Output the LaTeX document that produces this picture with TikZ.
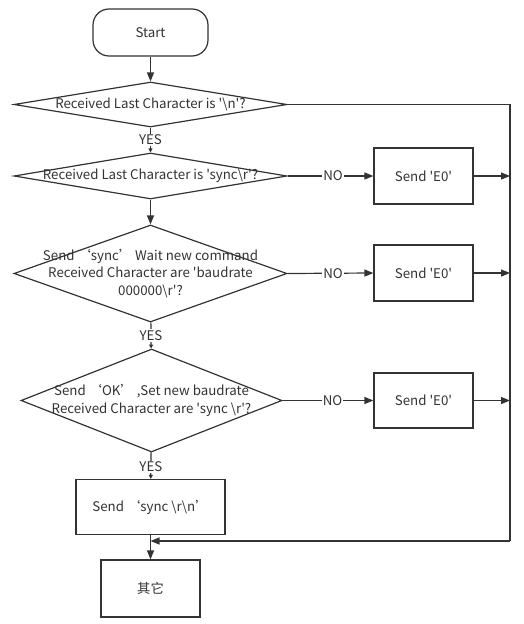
\documentclass[tikz,border=0pt]{standalone}
\usepackage{fontspec}
\newfontfamily\cf{Noto Sans CJK SC}
\usetikzlibrary{arrows.meta,shapes.geometric}
\definecolor{ln}{HTML}{333333}
\definecolor{tx}{HTML}{333333}
\tikzset{
  base/.style={draw=ln, line width=1.2pt, inner sep=0pt},
  startbox/.style={base, rounded corners=16pt, minimum width=115pt, minimum height=47pt},
  dia/.style={base, diamond, aspect=1},
  procbox/.style={base, rectangle, minimum width=99pt, minimum height=56pt},
  txt/.style={font=\cf\fontsize{13.3}{17.3}\selectfont, text=tx, align=center, inner sep=0pt},
  lab/.style={txt, fill=white, inner sep=1pt},
  arr/.style={draw=ln, line width=1.2pt, -{Triangle[length=9pt,width=7pt]}},
  sarr/.style={draw=ln, line width=1.2pt, -{Triangle[length=4pt,width=4pt]}},
  ln/.style={draw=ln, line width=1.2pt}
}
\begin{document}
\begin{tikzpicture}[x=1pt,y=-1pt]
\useasboundingbox (0,0) rectangle (524,624);
\node[startbox] (start) at (150.5,32.5) {};
\node[txt] at (start) {Start};
\node[dia, minimum width=273pt, minimum height=45pt] (d1) at (150.5,104.5) {};
\node[txt] at (d1) {Received Last Character is '\textbackslash n'?};
\node[dia, minimum width=273pt, minimum height=46pt] (d2) at (150.5,176) {};
\node[txt] at (d2) {Received Last Character is 'sync\textbackslash r'?};
\node[dia, minimum width=273pt, minimum height=97pt] (d3) at (150.5,273.5) {};
\node[txt] at (d3) {Send ‘sync’ Wait new command\\Received Character are 'baudrate\\000000\textbackslash r'?};
\node[dia, minimum width=261pt, minimum height=103pt] (d4) at (151.5,400.5) {};
\node[txt] at (d4) {Send ‘OK’ ,Set new baudrate\\Received Character are 'sync \textbackslash r'?};
\node[procbox] (e1) at (423.5,176) {};
\node[txt] at (e1) {Send 'E0'};
\node[procbox] (e2) at (423.5,273) {};
\node[txt] at (e2) {Send 'E0'};
\node[procbox, minimum height=55pt] (e3) at (423.5,400.5) {};
\node[txt] at (e3) {Send 'E0'};
\node[procbox, minimum width=149pt, minimum height=55pt] (send) at (150.5,507) {};
\node[txt] at (send) {Send ‘sync \textbackslash r\textbackslash n’};
\node[procbox, minimum height=57pt] (other) at (150.5,588.5) {};
\node[txt] at (other) {其它};
\coordinate (rt) at (510,104.5);
\coordinate (rb) at (510,541);
\coordinate (m) at (150.5,541);
\coordinate (r2) at (510,176);
\coordinate (r3) at (510,273);
\coordinate (r4) at (510,400.5);
% main flow
\draw[arr] (start) -- (d1);
\draw[sarr] (d1) -- node[lab] {YES} (d2);
\draw[arr] (d2) -- (d3);
\draw[sarr] (d3) -- node[lab] {YES} (d4);
\draw[sarr] (d4) -- node[lab, pos=0.55] {YES} (send);
\draw[arr] (send) -- (other);
% right side
\draw[ln] (d1.east) -- (rt) -- (rb);
\draw[arr] (rb) -- (m);
\draw[arr] (d2.east) -- node[lab, pos=0.53] {NO} (e1.west);
\draw[arr] (d3.east) -- node[lab, pos=0.53] {NO} (e2.west);
\draw[arr] (d4.east) -- node[lab, pos=0.55] {NO} (e3.west);
\draw[arr] (e1.east) -- (r2);
\draw[arr] (e2.east) -- (r3);
\draw[arr] (e3.east) -- (r4);
\end{tikzpicture}
\end{document}
